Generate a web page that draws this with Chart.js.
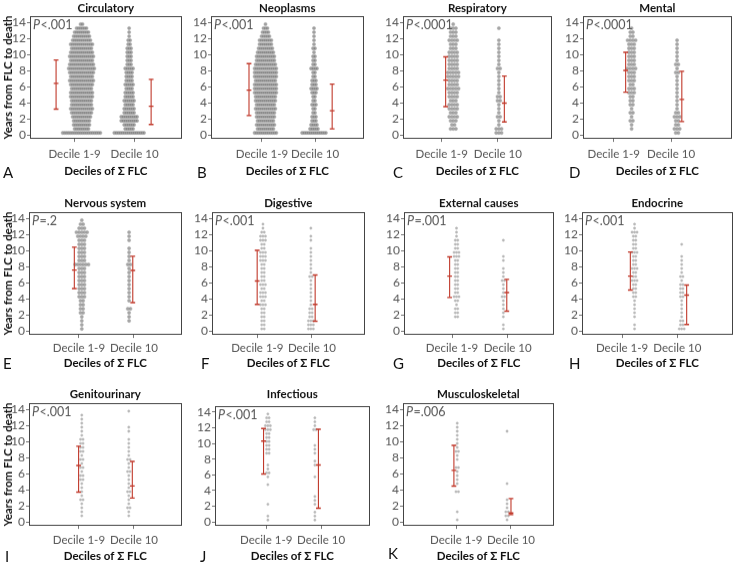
<!DOCTYPE html>
<html>
<head>
<meta charset="utf-8">
<script src="https://cdn.jsdelivr.net/npm/chart.js@4.4.0/dist/chart.umd.min.js"></script>
<style>
  html, body { margin: 0; padding: 0; background: #fff; }
  #fig { position: relative; width: 736px; height: 565px; overflow: hidden; }
  #fig canvas { position: absolute; }
  .letter { position: absolute; font: 15px Lato, sans-serif; color: #111; line-height: 16px; }
</style>
</head>
<body>
<div id="fig"></div>
<script>
// ---- data ----
const groupLabels = ['Decile 1-9', 'Decile 10'];
const panelTitles = ['Circulatory', 'Neoplasms', 'Respiratory', 'Mental', 'Nervous system', 'Digestive',
  'External causes', 'Endocrine', 'Genitourinary', 'Infectious', 'Musculoskeletal'];
const panelLetters = ['A', 'B', 'C', 'D', 'E', 'F', 'G', 'H', 'I', 'J', 'K'];
const pValues = ['P<.001', 'P<.001', 'P<.0001', 'P<.0001', 'P=.2', 'P<.001', 'P=.001', 'P<.001', 'P<.001', 'P<.001', 'P=.006'];
const yTicks = [0, 2, 4, 6, 8, 10, 12, 14];

// years from FLC to death, half-year levels
const yLevels = [0.25, 0.75, 1.25, 1.75, 2.25, 2.75, 3.25, 3.75, 4.25, 4.75, 5.25, 5.75, 6.25, 6.75,
  7.25, 7.75, 8.25, 8.75, 9.25, 9.75, 10.25, 10.75, 11.25, 11.75, 12.25, 12.75, 13.25, 13.75];

// dots per level: decile 1-9 / decile 10
const circ19 = [20, 8, 9, 9, 10, 11, 12, 11, 11, 12, 12, 11, 12, 13, 12, 13, 14, 13, 12, 13, 12, 11, 12, 10, 9, 8, 6, 2];
const circ10 = [16, 5, 6, 9, 9, 6, 6, 5, 6, 5, 5, 4, 5, 4, 4, 4, 5, 3, 3, 3, 3, 3, 2, 2, 1, 1, 1, 0];
const neo19 = [12, 9, 10, 9, 10, 10, 11, 10, 11, 11, 12, 12, 12, 11, 12, 12, 12, 11, 10, 10, 9, 8, 7, 7, 5, 4, 3, 1];
const neo10 = [13, 5, 4, 3, 3, 2, 2, 3, 2, 2, 3, 4, 3, 3, 2, 2, 4, 2, 2, 2, 1, 2, 1, 1, 1, 1, 1, 0];
const resp19 = [0, 3, 2, 3, 4, 3, 4, 4, 3, 4, 4, 5, 4, 4, 5, 5, 4, 4, 4, 4, 4, 3, 3, 4, 3, 3, 3, 1];
const resp10 = [3, 3, 1, 1, 2, 1, 1, 1, 2, 2, 1, 1, 1, 1, 1, 1, 2, 1, 1, 1, 1, 1, 1, 1, 0, 0, 1, 0];
const ment19 = [0, 1, 1, 2, 1, 2, 1, 2, 2, 2, 3, 3, 2, 3, 3, 3, 4, 3, 3, 3, 3, 3, 3, 4, 2, 2, 1, 0];
const ment10 = [2, 3, 2, 2, 3, 2, 1, 1, 1, 1, 1, 1, 1, 1, 1, 2, 1, 2, 1, 1, 1, 1, 1, 1, 0, 0, 0, 0];
const nerv19 = [1, 1, 1, 1, 2, 2, 2, 2, 3, 3, 3, 3, 3, 3, 3, 3, 6, 3, 3, 3, 3, 3, 3, 4, 5, 3, 2, 1];
const nerv10 = [0, 0, 1, 1, 1, 2, 0, 1, 1, 1, 1, 1, 1, 1, 1, 1, 2, 1, 1, 1, 1, 0, 1, 1, 1, 0, 0, 0];
const dig19 = [2, 2, 2, 2, 2, 2, 3, 2, 3, 3, 2, 3, 2, 2, 2, 2, 2, 3, 3, 3, 2, 2, 3, 3, 2, 1, 1, 0];
const dig10 = [3, 3, 3, 2, 2, 2, 1, 1, 1, 1, 1, 1, 1, 2, 1, 1, 1, 1, 1, 1, 1, 0, 1, 1, 0, 1, 0, 0];
const ext19 = [0, 0, 0, 2, 2, 2, 1, 2, 3, 2, 2, 2, 2, 2, 2, 2, 2, 2, 3, 3, 2, 2, 2, 1, 1, 1, 0, 0];
const ext10 = [1, 1, 0, 1, 1, 1, 1, 1, 2, 1, 1, 1, 2, 1, 1, 1, 0, 1, 1, 0, 0, 0, 1, 0, 0, 0, 0, 0];
const endo19 = [1, 1, 0, 1, 1, 1, 1, 1, 2, 2, 2, 2, 3, 2, 2, 3, 2, 2, 2, 3, 2, 2, 2, 2, 3, 1, 1, 0];
const endo10 = [3, 2, 2, 1, 1, 1, 1, 1, 2, 2, 2, 2, 1, 2, 1, 1, 1, 1, 1, 0, 0, 1, 0, 0, 0, 0, 0, 0];
const geni19 = [0, 1, 1, 1, 1, 2, 1, 1, 1, 1, 2, 2, 1, 2, 1, 2, 1, 2, 2, 2, 2, 1, 1, 1, 1, 1, 1, 0];
const geni10 = [0, 1, 1, 2, 1, 1, 1, 2, 1, 1, 1, 1, 2, 1, 1, 2, 1, 1, 1, 1, 1, 0, 1, 1, 0, 0, 0, 1];
const inf19 = [1, 1, 0, 0, 1, 0, 0, 0, 0, 1, 0, 1, 2, 1, 1, 0, 0, 2, 2, 2, 2, 2, 2, 3, 3, 2, 2, 1];
const inf10 = [1, 1, 1, 0, 1, 1, 1, 0, 0, 0, 0, 1, 0, 0, 1, 1, 0, 1, 1, 1, 0, 0, 0, 2, 1, 1, 1, 0];
const musc19 = [1, 0, 1, 0, 0, 0, 0, 2, 0, 1, 1, 1, 1, 2, 0, 1, 1, 2, 1, 1, 1, 1, 1, 1, 1, 0, 0, 0];
const musc10 = [1, 2, 2, 1, 1, 1, 0, 0, 0, 1, 0, 0, 0, 0, 0, 0, 0, 0, 0, 0, 0, 0, 1, 0, 0, 0, 0, 0];

// error bars [mean, low, high]
const circBar19 = [6.4, 3.2, 9.3],   circBar10 = [3.55, 1.3, 6.9];
const neoBar19 = [5.55, 2.4, 8.85],  neoBar10 = [3.0, 0.75, 6.3];
const respBar19 = [6.8, 3.5, 9.7],   respBar10 = [3.95, 1.6, 7.3];
const mentBar19 = [8.0, 5.3, 10.25], mentBar10 = [4.4, 1.65, 7.9];
const nervBar19 = [7.55, 5.25, 10.4], nervBar10 = [7.5, 3.5, 9.27];
const digBar19 = [6.2, 3.3, 10.0],   digBar10 = [3.3, 1.2, 6.95];
const extBar19 = [6.8, 4.15, 9.2],   extBar10 = [4.75, 2.45, 6.4];
const endoBar19 = [6.8, 5.07, 9.8],  endoBar10 = [4.45, 0.8, 5.7];
const geniBar19 = [7.0, 3.7, 9.4],   geniBar10 = [4.46, 2.96, 7.5];
const infBar19 = [10.3, 6.1, 11.9],  infBar10 = [7.25, 1.75, 11.8];
const muscBar19 = [6.4, 4.45, 9.5],  muscBar10 = [1.1, 0.9, 2.9];

const panelData = [
  [circ19, circ10, circBar19, circBar10], [neo19, neo10, neoBar19, neoBar10],
  [resp19, resp10, respBar19, respBar10], [ment19, ment10, mentBar19, mentBar10],
  [nerv19, nerv10, nervBar19, nervBar10], [dig19, dig10, digBar19, digBar10],
  [ext19, ext10, extBar19, extBar10], [endo19, endo10, endoBar19, endoBar10],
  [geni19, geni10, geniBar19, geniBar10], [inf19, inf10, infBar19, infBar10],
  [musc19, musc10, muscBar19, muscBar10]
];

// ---- layout (page pixels / percent of plot width) ----
const rows = [
  { titleY: 7.5, tickOff: 15.5, titleOff: 32 },
  { titleY: 203, tickOff: 13, titleOff: 28 },
  { titleY: 393.5, tickOff: 14, titleOff: 30 }
];
const layout = [
  { row: 0, rect: [30, 16, 183, 139],  ticks: [29.4, 69.0], swarm: [34.0, 65.4], bars: [17.2, 79.9], dot: 'dense', letter: [3, 172] },
  { row: 0, rect: [211, 16, 365, 139], ticks: [33.4, 68.2], swarm: [35.7, 67.5], bars: [24.9, 79.4], dot: 'dense', letter: [197, 172] },
  { row: 0, rect: [403, 16, 553, 139], ticks: [26.0, 63.8], swarm: [33.8, 64.5], bars: [28.7, 68.2], dot: 'mid', letter: [393, 172] },
  { row: 0, rect: [583, 16, 733, 139], ticks: [20.7, 59.3], swarm: [32.7, 63.3], bars: [28.7, 66.5], dot: 'mid', letter: [569, 172] },
  { row: 1, rect: [29, 212, 183, 335],  ticks: [32.7, 68.8], swarm: [34.6, 65.6], bars: [29.7, 68.0], dot: 'mid', letter: [3, 363] },
  { row: 1, rect: [212, 212, 366, 335], ticks: [29.7, 65.5], swarm: [33.4, 64.8], bars: [29.6, 67.6], dot: 'light', letter: [201, 363] },
  { row: 1, rect: [404, 212, 555, 335], ticks: [32.1, 69.3], swarm: [35.1, 66.4], bars: [30.5, 68.7], dot: 'light', letter: [393, 363] },
  { row: 1, rect: [582, 212, 734, 335], ticks: [26.6, 63.3], swarm: [34.9, 66.2], bars: [32.1, 69.5], dot: 'light', letter: [569, 363] },
  { row: 2, rect: [29, 403, 183, 526],  ticks: [32.7, 68.8], swarm: [34.6, 65.4], bars: [32.5, 67.7], dot: 'light', letter: [5, 556] },
  { row: 2, rect: [215, 406, 371, 526], ticks: [33.1, 68.6], swarm: [34.2, 64.6], bars: [31.4, 66.9], dot: 'light', letter: [200, 556] },
  { row: 2, rect: [403, 403, 555, 526], ticks: [35.3, 71.7], swarm: [36.0, 69.1], bars: [33.8, 71.7], dot: 'light', letter: [388, 553] }
];
const dotStyles = {
  dense: { r: 1.6, dx: 2.0, fill: 'rgba(95,95,95,0.6)', line: 'rgba(165,165,165,0.85)', bw: 0.6 },
  mid:   { r: 1.6, dx: 2.7, fill: 'rgba(105,105,105,0.6)', line: 'rgba(165,165,165,0.85)', bw: 0.6 },
  light: { r: 1.15, dx: 2.5, fill: 'rgba(125,125,125,0.55)', line: 'rgba(175,175,175,0.8)', bw: 0.5 }
};
const FONT = 'Lato, "Open Sans", sans-serif';
const RED = '#c0392b';

// box round the plot + P value
const framePlugin = {
  id: 'frame',
  afterDatasetsDraw(chart, args, opts) {
    const { ctx, chartArea: a } = chart;
    ctx.save();
    ctx.strokeStyle = '#444';
    ctx.lineWidth = 1;
    ctx.strokeRect(Math.round(a.left) + 0.5, Math.round(a.top) + 0.5,
      Math.round(a.right - a.left) - 1, Math.round(a.bottom - a.top) - 1);
    ctx.fillStyle = '#555';
    ctx.textBaseline = 'middle';
    ctx.font = 'italic 12.5px ' + FONT;
    ctx.fillText('P', a.left + 3, a.top + 9);
    const w = ctx.measureText('P').width;
    ctx.font = '12.5px ' + FONT;
    ctx.fillText(opts.text.slice(1), a.left + 3 + w + 0.5, a.top + 9);
    ctx.restore();
  }
};

const fig = document.getElementById('fig');

panelData.forEach((d, p) => {
  const lay = layout[p];
  const row = rows[lay.row];
  const [l, t, r, b] = lay.rect;
  const plotW = r - l;
  const firstCol = p % 4 === 0;
  const yW = firstCol ? l : 28;
  const top = Math.round(row.titleY - 6.9);
  const titleH = t - top;
  const xH = row.titleOff + 6.9;
  const W = yW + plotW + 4;
  const H = titleH + (b - t) + xH;

  const canvas = document.createElement('canvas');
  canvas.width = W; canvas.height = H;
  canvas.style.left = (l - yW) + 'px';
  canvas.style.top = top + 'px';
  canvas.style.width = W + 'px';
  canvas.style.height = H + 'px';
  fig.appendChild(canvas);

  const st = dotStyles[lay.dot];
  const dxU = st.dx * 100 / plotW;
  const datasets = [];
  [0, 1].forEach(g => {
    const counts = d[g];
    const pts = [];
    yLevels.forEach((y, i) => {
      const n = counts[i];
      for (let k = 0; k < n; k++) pts.push({ x: lay.swarm[g] + (k - (n - 1) / 2) * dxU, y });
    });
    datasets.push({
      data: pts, pointRadius: st.r, backgroundColor: st.fill,
      borderColor: st.line, borderWidth: st.bw, order: 2
    });
  });
  [0, 1].forEach(g => {
    const [mean, lo, hi] = d[2 + g];
    const x = lay.bars[g];
    datasets.push({
      data: [{ x, y: lo }, { x, y: mean }, { x, y: hi }],
      showLine: true, borderColor: RED, borderWidth: 1.1,
      pointStyle: 'line', pointRadius: 2.4, pointBorderColor: RED, pointBorderWidth: 1.4,
      order: 0
    });
  });

  new Chart(canvas, {
    type: 'scatter',
    data: { datasets },
    plugins: [framePlugin],
    options: {
      responsive: false,
      devicePixelRatio: 1,
      animation: false,
      events: [],
      layout: { padding: { left: 0, right: 4, top: 0, bottom: 0 } },
      scales: {
        x: {
          type: 'linear', min: 0, max: 100,
          afterBuildTicks: s => { s.ticks = lay.ticks.map(v => ({ value: v })); },
          afterFit: s => { s.height = xH; },
          ticks: {
            callback: (v, i) => groupLabels[i], color: '#555', autoSkip: false, maxRotation: 0,
            font: { family: FONT, size: 11.5 }, padding: row.tickOff - 3 - 6.9
          },
          grid: { drawOnChartArea: false, drawTicks: true, tickLength: 3, color: '#777' },
          border: { display: false },
          title: {
            display: true, text: 'Deciles of Σ FLC', color: '#111', padding: 0,
            font: { family: FONT, size: 11.5, weight: 'bold', lineHeight: 1.2 }
          }
        },
        y: {
          type: 'linear', min: -0.5, max: 14.75,
          afterBuildTicks: s => { s.ticks = yTicks.map(v => ({ value: v })); },
          afterFit: s => { s.width = yW; },
          ticks: { color: '#555', autoSkip: false, font: { family: FONT, size: 12 }, padding: 1 },
          grid: { drawOnChartArea: false, drawTicks: true, tickLength: 3, color: '#777' },
          border: { display: false },
          title: {
            display: firstCol, text: 'Years from FLC to death', color: '#111',
            padding: { top: 1, bottom: 0 },
            font: { family: FONT, size: 11.5, weight: 'bold', lineHeight: 1.2 }
          }
        }
      },
      plugins: {
        legend: { display: false },
        tooltip: { enabled: false },
        title: {
          display: true, text: panelTitles[p], fullSize: false, color: '#111',
          font: { family: FONT, size: 11.5, weight: 'bold', lineHeight: 1.2 },
          padding: { top: 0, bottom: titleH - 13.8 }
        },
        frame: { text: pValues[p] }
      }
    }
  });

  const lt = document.createElement('div');
  lt.className = 'letter';
  lt.textContent = panelLetters[p];
  lt.style.left = lay.letter[0] + 'px';
  lt.style.top = (lay.letter[1] - 8) + 'px';
  fig.appendChild(lt);
});
</script>
</body>
</html>
